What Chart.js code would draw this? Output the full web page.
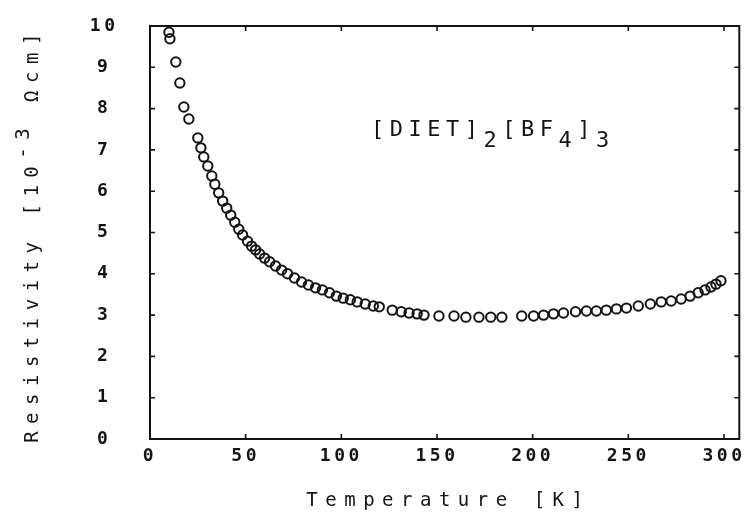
<!DOCTYPE html>
<html><head><meta charset="utf-8">
<script src="https://cdn.jsdelivr.net/npm/chart.js@4.4.0/dist/chart.umd.min.js"></script>
<style>html,body{margin:0;padding:0;background:#fff;}canvas{display:block;}</style>
</head><body>
<canvas id="c" width="746" height="515"></canvas>
<script>
const temperature = [9.9,10.4,13.5,15.6,17.7,20.3,25.0,26.6,28.1,30.2,32.3,33.9,35.9,38.0,40.1,42.2,44.3,46.4,48.4,51.0,53.1,55.2,57.3,59.9,62.5,65.6,68.8,71.9,75.5,79.2,82.8,86.5,90.1,93.8,97.4,101.0,104.7,108.3,112.5,116.7,119.8,126.6,131.3,135.4,139.6,143.2,151.0,158.9,165.1,171.9,178.1,183.9,194.3,200.5,205.7,210.9,216.1,222.4,228.1,233.3,238.5,243.8,249.0,255.2,261.5,267.2,272.4,277.6,282.3,286.5,290.1,293.2,295.8,298.4];
const resistivity = [9.85,9.69,9.13,8.62,8.04,7.75,7.29,7.05,6.83,6.61,6.37,6.17,5.96,5.76,5.59,5.42,5.25,5.08,4.94,4.79,4.67,4.58,4.48,4.38,4.29,4.19,4.09,4.00,3.90,3.80,3.73,3.66,3.61,3.54,3.46,3.41,3.37,3.32,3.27,3.22,3.20,3.12,3.08,3.05,3.03,3.00,2.98,2.98,2.95,2.95,2.95,2.95,2.98,2.98,3.00,3.03,3.05,3.08,3.10,3.10,3.12,3.15,3.17,3.22,3.27,3.32,3.34,3.39,3.46,3.54,3.61,3.68,3.75,3.83];
const xTickValues = [0,50,100,150,200,250,300];
const yTickValues = [0,1,2,3,4,5,6,7,8,9,10];
const xTitle = 'Temperature [K]';
const yTitleParts = [['Resistivity [10',0],['-3',1],[' \u03A9cm]',0]];
const compoundParts = [['[DIET]',0],['2',1],['[BF',0],['4',1],[']',0],['3',1]];

const INK = '#141414';
const MONO = '"DejaVu Sans Mono", "Liberation Mono", monospace';

const framePlugin = {
  id: 'frame',
  beforeDraw(chart) { chart.ctx.letterSpacing = '3.5px'; },
  afterDraw(chart) {
    const {ctx, chartArea: a, scales: {x, y}} = chart;
    ctx.save();
    ctx.letterSpacing = '0px';
    ctx.strokeStyle = INK;
    ctx.lineWidth = 2;
    ctx.strokeRect(a.left, a.top, a.right - a.left, a.bottom - a.top);
    ctx.lineWidth = 1.6;
    ctx.beginPath();
    x.ticks.forEach(t => {
      if (t.value <= 0) return;
      const px = x.getPixelForValue(t.value);
      ctx.moveTo(px, a.bottom); ctx.lineTo(px, a.bottom - 5);
      ctx.moveTo(px, a.top); ctx.lineTo(px, a.top + 5);
    });
    y.ticks.forEach(t => {
      if (t.value <= 0 || t.value >= 10) return;
      const py = y.getPixelForValue(t.value);
      ctx.moveTo(a.left, py); ctx.lineTo(a.left + 5, py);
      ctx.moveTo(a.right, py); ctx.lineTo(a.right - 5, py);
    });
    ctx.stroke();

    ctx.fillStyle = INK;
    // x title
    ctx.font = '19px ' + MONO;
    ctx.letterSpacing = '7.5px';
    ctx.textAlign = 'center';
    ctx.textBaseline = 'alphabetic';
    ctx.fillText(xTitle, (a.left + a.right) / 2 + 3.75, 506);

    // y title (rotated, with superscript)
    ctx.save();
    ctx.translate(38, (a.top + a.bottom) / 2 + 2);
    ctx.rotate(-Math.PI / 2);
    ctx.textAlign = 'left';
    let total = 0;
    yTitleParts.forEach(([s]) => { total += ctx.measureText(s).width; });
    let cx = -total / 2;
    yTitleParts.forEach(([s, sup]) => {
      ctx.fillText(s, cx, sup ? -9 : 0);
      cx += ctx.measureText(s).width;
    });
    ctx.restore();

    // compound label
    ctx.font = '22px ' + MONO;
    ctx.letterSpacing = '5.5px';
    ctx.textAlign = 'left';
    let lx = 371;
    compoundParts.forEach(([s, sub]) => {
      ctx.fillText(s, lx, sub ? 147 : 136);
      lx += ctx.measureText(s).width;
    });
    ctx.restore();
  }
};

new Chart(document.getElementById('c'), {
  type: 'scatter',
  data: {
    datasets: [{
      data: temperature.map((t, i) => ({x: t, y: resistivity[i]})),
      pointStyle: 'circle',
      pointRadius: 4.7,
      pointHoverRadius: 4.7,
      borderWidth: 2,
      borderColor: INK,
      backgroundColor: 'rgba(0,0,0,0)',
      showLine: false
    }]
  },
  options: {
    responsive: false,
    animation: false,
    devicePixelRatio: 1,
    layout: {padding: {left: 0, right: 5, top: 26, bottom: 0}},
    plugins: {legend: {display: false}, tooltip: {enabled: false}},
    scales: {
      x: {
        type: 'linear', position: 'bottom', min: 0, max: 308,
        afterFit(s) { s.height = 76; s.paddingLeft = 0; s.paddingRight = 0; },
        afterBuildTicks(s) { s.ticks = xTickValues.map(v => ({value: v})); },
        grid: {display: false, drawTicks: false},
        border: {display: false},
        ticks: {color: INK, padding: 7, maxRotation: 0, autoSkip: false,
                font: {family: MONO, size: 18, weight: 'bold'}}
      },
      y: {
        type: 'linear', position: 'left', min: 0, max: 10,
        afterFit(s) { s.width = 150; s.paddingTop = 0; s.paddingBottom = 0; },
        afterBuildTicks(s) { s.ticks = yTickValues.map(v => ({value: v})); },
        grid: {display: false, drawTicks: false},
        border: {display: false},
        ticks: {color: INK, padding: 35, crossAlign: 'center', autoSkip: false,
                font: {family: MONO, size: 18, weight: 'bold'}}
      }
    }
  },
  plugins: [framePlugin]
});
</script>
</body></html>
